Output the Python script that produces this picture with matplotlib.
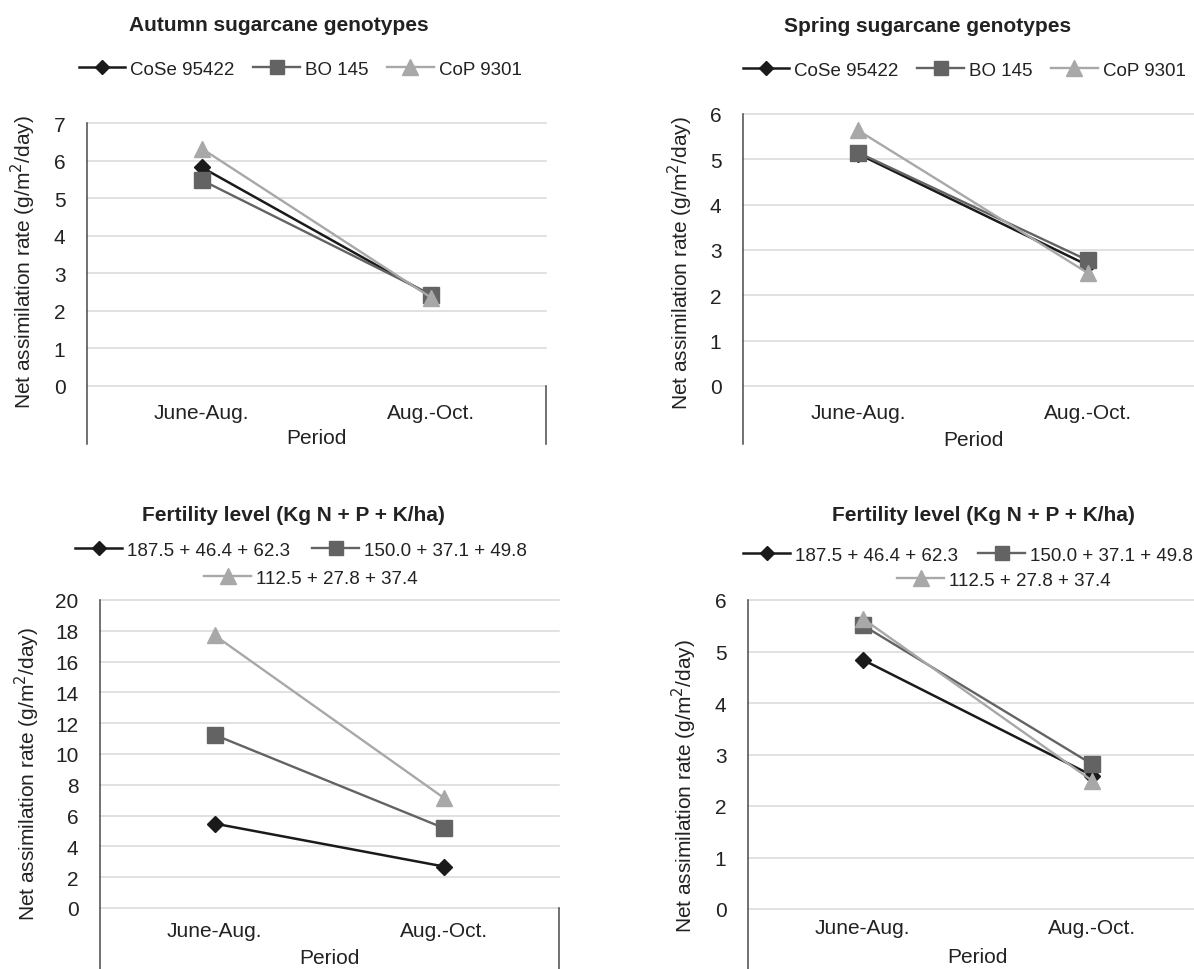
import matplotlib
matplotlib.use('Agg')
from matplotlib import pyplot as plt

plt.rcParams['font.family'] = ['Liberation Sans', 'DejaVu Sans']

# data
periods = ['June-Aug.', 'Aug.-Oct.']

genotypes = ['CoSe 95422', 'BO 145', 'CoP 9301']
autumn_cose = [5.82, 2.40]
autumn_bo = [5.48, 2.43]
autumn_cop = [6.32, 2.35]
spring_cose = [5.12, 2.66]
spring_bo = [5.15, 2.77]
spring_cop = [5.64, 2.49]

fertility = ['187.5 + 46.4 + 62.3', '150.0 + 37.1 + 49.8', '112.5 + 27.8 + 37.4']
autumn_f1 = [5.48, 2.69]
autumn_f2 = [11.24, 5.18]
autumn_f3 = [17.7, 7.13]
spring_f1 = [4.84, 2.59]
spring_f2 = [5.51, 2.81]
spring_f3 = [5.64, 2.49]

ticks_autumn = list(range(0, 8))
ticks_spring = list(range(0, 7))
ticks_fert = list(range(0, 21, 2))

W, H = 1194, 970
TXT = '#222222'
styles = [dict(color='#1a1a1a', marker='D', ms=7.8, lw=1.8),
          dict(color='#636363', marker='s', ms=11, lw=1.7),
          dict(color='#a8a8a8', marker='^', ms=12, lw=1.7)]

fig = plt.figure(figsize=(W / 100, H / 100), dpi=100)


def add_ax(left, top, right, bottom):
	return fig.add_axes([left / W, 1 - bottom / H, (right - left) / W, (bottom - top) / H])


def draw_panel(ax, series, names, yticks, ext, tick_pad, lab_y, ylab, title, title_xy):
	x = range(len(periods))
	for vals, name, st in zip(series, names, styles):
		ax.plot(x, vals, label=name, zorder=3, **st)

	ax.set_xlim(-0.5, len(periods) - 0.5)
	ax.set_ylim(yticks[0], yticks[-1])
	ax.set_yticks(yticks)
	ax.set_xticks(list(x))
	ax.set_xticklabels(periods)
	ax.tick_params(axis='both', length=0, labelsize=15, colors=TXT)
	ax.tick_params(axis='y', pad=15.5)
	ax.tick_params(axis='x', pad=tick_pad)

	for s in ax.spines.values():
		s.set_visible(False)
	ax.yaxis.grid(True, color='#d9d9d9', lw=1.1)
	for g in ax.yaxis.get_gridlines():
		g.set_clip_on(False)
	ax.set_axisbelow(True)

	# vertical axis line and the category divider lines running below the plot
	ax.axvline(-0.5, ymin=-ext, ymax=1, color='#4a4a4a', lw=1.1, clip_on=False)
	ax.axvline(len(periods) - 0.5, ymin=-ext, ymax=0, color='#4a4a4a', lw=1.1, clip_on=False)

	ax.set_ylabel('Net assimilation rate (g/m$^2$/day)', fontsize=15, color=TXT)
	ax.yaxis.label.set_verticalalignment('center')
	ax.yaxis.set_label_coords(*ylab)
	ax.set_xlabel('Period', fontsize=15, color=TXT)
	ax.xaxis.set_label_coords(0.5, lab_y)

	fig.text(title_xy[0] / W, 1 - title_xy[1] / H, title, fontsize=15, fontweight='bold',
			 color=TXT, ha='center', va='baseline')


def legend_at(ax, handles, labels, cx, cy, ncol, colsp=1.0):
	return ax.legend(handles, labels, loc='center', bbox_to_anchor=(cx / W, 1 - cy / H),
					 bbox_transform=fig.transFigure, ncol=ncol, frameon=False, fontsize=13.5,
					 handlelength=2.5, handletextpad=0.25, columnspacing=colsp, markerscale=0.95,
					 borderpad=0, borderaxespad=0, labelcolor=TXT)


# top left
ax1 = add_ax(87, 124, 546, 387)
draw_panel(ax1, [autumn_cose, autumn_bo, autumn_cop], genotypes, ticks_autumn,
		   58 / 263, 12.5, -42 / 263, (-0.139, 0.475), 'Autumn sugarcane genotypes', (279, 31))
h, l = ax1.get_legend_handles_labels()
legend_at(ax1, h, l, 300, 70, 3)

# top right
ax2 = add_ax(743, 115, 1203, 387)
draw_panel(ax2, [spring_cose, spring_bo, spring_cop], genotypes, ticks_spring,
		   58 / 272, 12, -44 / 272, (-0.135, 0.456), 'Spring sugarcane genotypes', (928, 32))
h, l = ax2.get_legend_handles_labels()
legend_at(ax2, h, l, 964, 71, 3)

# bottom left
ax3 = add_ax(100, 601, 559, 909)
draw_panel(ax3, [autumn_f1, autumn_f2, autumn_f3], fertility, ticks_fert,
		   0.25, 9.5, -40 / 308, (-0.159, 0.437), 'Fertility level (Kg N + P + K/ha)', (293, 521))
h, l = ax3.get_legend_handles_labels()
leg = legend_at(ax3, h[:2], l[:2], 301, 551, 2, 1.2)
ax3.add_artist(leg)
legend_at(ax3, h[2:], l[2:], 311, 579, 1)

# bottom right
ax4 = add_ax(748, 601, 1207, 910)
draw_panel(ax4, [spring_f1, spring_f2, spring_f3], fertility, ticks_spring,
		   0.25, 6.5, -38 / 309, (-0.139, 0.401), 'Fertility level (Kg N + P + K/ha)', (983, 521))
h, l = ax4.get_legend_handles_labels()
leg = legend_at(ax4, h[:2], l[:2], 968, 556, 2, 1.1)
ax4.add_artist(leg)
legend_at(ax4, h[2:], l[2:], 1004, 581, 1)

fig.savefig('out.png', dpi=100)
